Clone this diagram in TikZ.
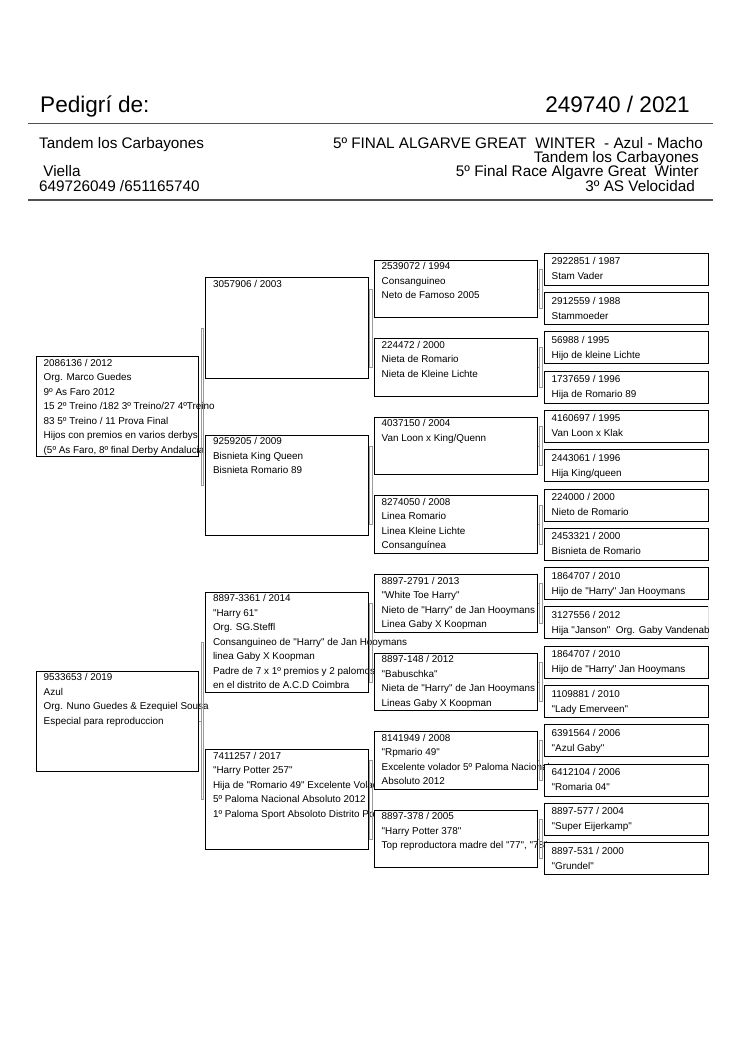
\documentclass[tikz,border=0pt]{standalone}
\usepackage{fontspec}
\setmainfont{Liberation Sans}[Ligatures=TeXOff]
\usetikzlibrary{calc}

\definecolor{linkgray}{HTML}{9A9A9A}
\definecolor{rulegray}{HTML}{505050}
\newcommand{\boxfont}{\fontsize{9.9}{12}\selectfont}
\newcommand{\hdrfont}{\fontsize{15.3}{18}\selectfont}
\newcommand{\titlefont}{\fontsize{22.6}{28}\selectfont}
\newcommand{\topgap}{10}
\newcommand{\rowgap}{14.5}

\tikzset{
  pbox/.style={draw, line width=0.9pt, fill=white, inner sep=0pt, anchor=north west},
  ptext/.style={font=\boxfont, anchor=base west, inner sep=0pt},
  hdr/.style={font=\hdrfont, inner sep=0pt},
  link/.style={draw=linkgray, line width=0.6pt},
  rule/.style={draw=rulegray, line width=1.8pt},
}

% one box of the pedigree: name, x, y (top left), width, height, lines
\newcommand{\bird}[6]{%
  \node[pbox, minimum width=#4pt, minimum height=#5pt] (#1) at (#2,#3) {};
  \foreach \txt [count=\row] in {#6}
    \node[ptext] at ($(#1.north west)+(7.5,\topgap+\rowgap*\row-\rowgap)$) {\txt};
}

\begin{document}
\begin{tikzpicture}[x=1pt, y=-1pt]
    \fill[white] (0,0) rectangle (750,1061);
    \useasboundingbox (0,0) rectangle (750,1061);

    % header
    \node[font=\titlefont, anchor=base west, inner sep=0pt] (title) at (40,112.5) {Pedigrí de:};
    \node[font=\titlefont, anchor=base east, inner sep=0pt] (ringno) at (690,112.5) {249740 / 2021};
    \draw[rule] (28,123.5) -- (713,123.5);
    \node[hdr, anchor=base west] (loft) at (39,148.4) {Tandem los Carbayones};
    \node[hdr, anchor=base west] (town) at (43.2,176.4) {Viella};
    \node[hdr, anchor=base west] (phone) at (39,191.4) {649726049 /651165740};
    \node[hdr, anchor=base east] (info1) at (703,148.4) {5º FINAL ALGARVE GREAT\ \ WINTER\ \ - Azul - Macho};
    \node[hdr, anchor=base east] (info2) at (699,162.4) {Tandem los Carbayones};
    \node[hdr, anchor=base east] (info3) at (699,176.4) {5º Final Race Algavre Great\ \ Winter};
    \node[hdr, anchor=base east] (info4) at (695,191.4) {3º AS Velocidad};
    \draw[rule] (28,200) -- (713,200);

    % parents
    \bird{p}{36}{356.25}{162}{100}{2086136 / 2012, Org. Marco Guedes, 9º As Faro 2012,
        15 2º Treino /182 3º Treino/27 4ºTreino, 83 5º Treino / 11 Prova Final,
        Hijos con premios en varios derbys, {(5º As Faro, 8º final Derby Andalucia}}
    \bird{m}{36}{670.65}{162}{100}{9533653 / 2019, Azul,
        Org. Nuno Guedes \& Ezequiel Sousa, Especial para reproduccion}

    % grandparents
    \bird{pp}{205.3}{277.45}{162.4}{100.4}{3057906 / 2003}
    \bird{pm}{205.3}{434.65}{162.4}{100.4}{9259205 / 2009, Bisnieta King Queen, Bisnieta Romario 89}
    \bird{mp}{205.3}{591.85}{162.4}{100.4}{8897-3361 / 2014, "Harry 61", Org. SG.Steffl,
        Consanguineo de "Harry" de Jan Hooymans, linea Gaby X Koopman,
        Padre de 7 x 1º premios y 2 palomos, en el distrito de A.C.D Coimbra}
    \bird{mm}{205.3}{749.05}{162.4}{100.4}{7411257 / 2017, "Harry Potter 257",
        Hija de "Romario 49" Excelente Volador, 5º Paloma Nacional Absoluto 2012,
        1º Paloma Sport Absoloto Distrito Porto}

    % great-grandparents
    \bird{ppp}{374}{259.6}{163}{57.5}{2539072 / 1994, Consanguineo, Neto de Famoso 2005}
    \bird{ppm}{374}{338.2}{163}{57.5}{224472 / 2000, Nieta de Romario, Nieta de Kleine Lichte}
    \bird{pmp}{374}{416.8}{163}{57.5}{4037150 / 2004, Van Loon x King/Quenn}
    \bird{pmm}{374}{495.4}{163}{57.5}{8274050 / 2008, Linea Romario, Linea Kleine Lichte, Consanguínea}
    \bird{mpp}{374}{574.0}{163}{57.5}{8897-2791 / 2013, "White Toe Harry",
        Nieto de "Harry" de Jan Hooymans, Linea Gaby X Koopman}
    \bird{mpm}{374}{652.6}{163}{57.5}{8897-148 / 2012, "Babuschka",
        Nieta de "Harry" de Jan Hooymans, Lineas Gaby X Koopman}
    \bird{mmp}{374}{731.2}{163}{57.5}{8141949 / 2008, "Rpmario 49",
        Excelente volador 5º Paloma Nacional, Absoluto 2012}
    \bird{mmm}{374}{809.8}{163}{57.5}{8897-378 / 2005, "Harry Potter 378",
        {Top reproductora madre del "77", "78"}}

    % great-great-grandparents
    \renewcommand{\topgap}{12}
    \renewcommand{\rowgap}{15}
    \bird{pppp}{544}{252.7}{163.7}{32}{2922851 / 1987, Stam Vader}
    \bird{pppm}{544}{292.0}{163.7}{32}{2912559 / 1988, Stammoeder}
    \bird{ppmp}{544}{331.3}{163.7}{32}{56988 / 1995, Hijo de kleine Lichte}
    \bird{ppmm}{544}{370.6}{163.7}{32}{1737659 / 1996, Hija de Romario 89}
    \bird{pmpp}{544}{409.9}{163.7}{32}{4160697 / 1995, Van Loon x Klak}
    \bird{pmpm}{544}{449.2}{163.7}{32}{2443061 / 1996, Hija King/queen}
    \bird{pmmp}{544}{488.5}{163.7}{32}{224000 / 2000, Nieto de Romario}
    \bird{pmmm}{544}{527.8}{163.7}{32}{2453321 / 2000, Bisnieta de Romario}
    \bird{mppp}{544}{567.1}{163.7}{32}{1864707 / 2010, Hijo de "Harry" Jan Hooymans}
    \begin{scope}
        \clip (540,600) rectangle (708.2,642);
        \bird{mppm}{544}{606.4}{163.7}{32}{3127556 / 2012, Hija "Janson"\ \ Org. Gaby Vandenabeele}
    \end{scope}
    \bird{mpmp}{544}{645.7}{163.7}{32}{1864707 / 2010, Hijo de "Harry" Jan Hooymans}
    \bird{mpmm}{544}{685.0}{163.7}{32}{1109881 / 2010, "Lady Emerveen"}
    \bird{mmpp}{544}{724.3}{163.7}{32}{6391564 / 2006, "Azul Gaby"}
    \bird{mmpm}{544}{763.6}{163.7}{32}{6412104 / 2006, "Romaria 04"}
    \bird{mmmp}{544}{802.9}{163.7}{32}{8897-577 / 2004, "Super Eijerkamp"}
    \bird{mmmm}{544}{842.2}{163.7}{32}{8897-531 / 2000, "Grundel"}

    % brackets from each bird to its two parents
    \foreach \x in {p,m,pp,pm,mp,mm,ppp,ppm,pmp,pmm,mpp,mpm,mmp,mmm} {
        \draw[link] (\x.east) -- ($(\x p.west |- \x.east)+(-4.3,0)$);
        \draw[link] ($(\x p.west)+(-4.3,0)$) rectangle ($(\x m.west)+(-2,0)$);
    }
\end{tikzpicture}
\end{document}
